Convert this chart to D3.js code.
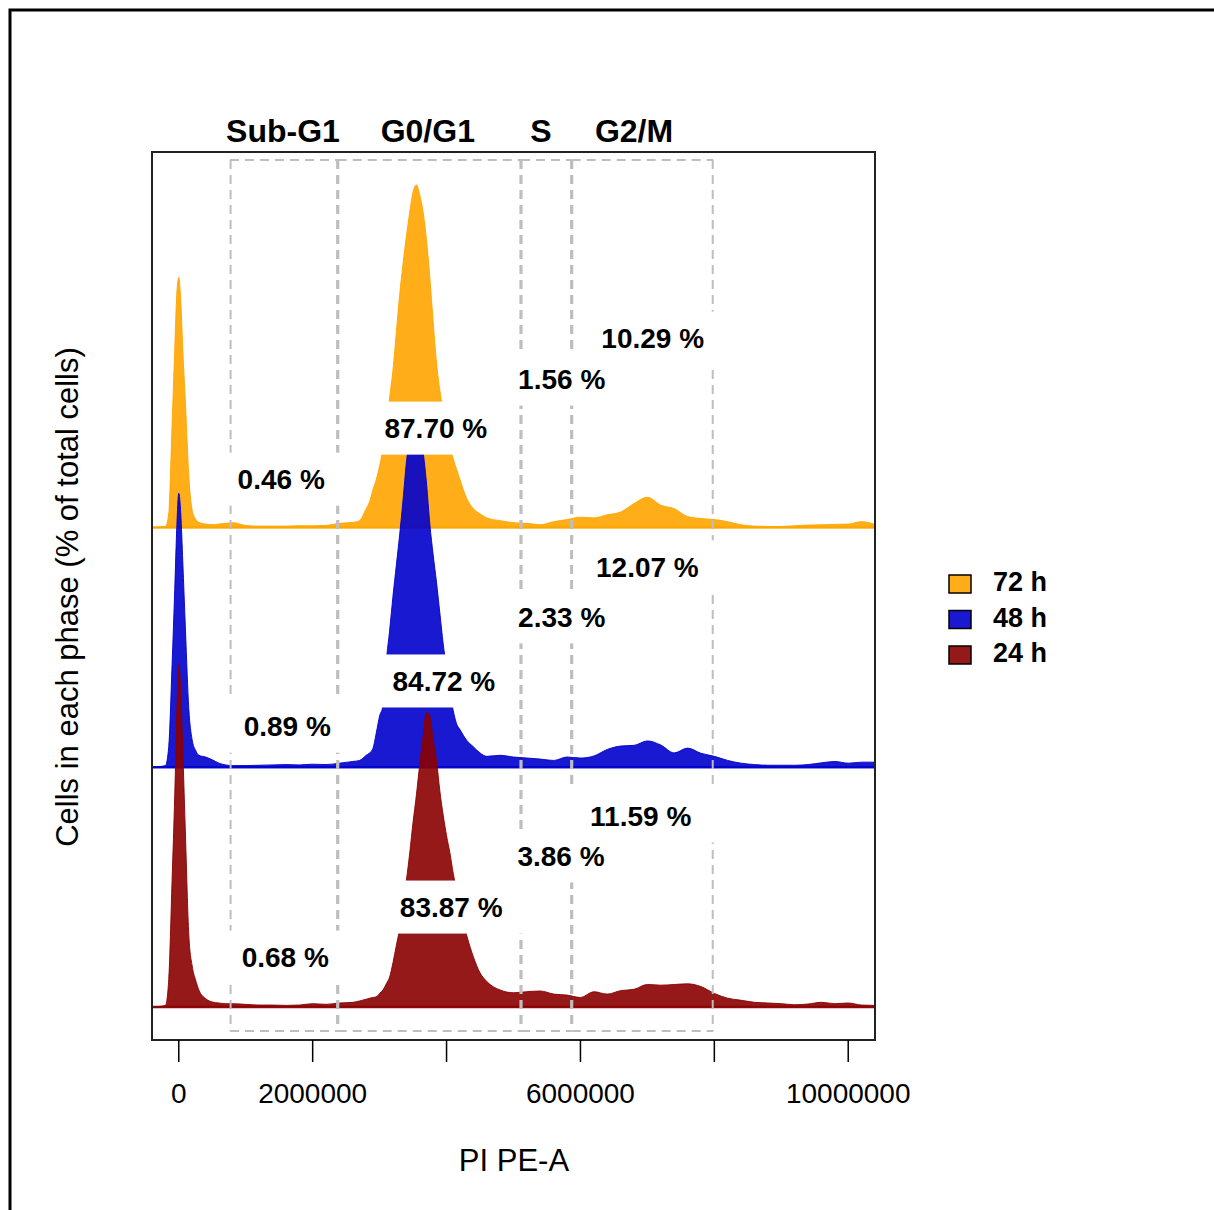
<!DOCTYPE html>
<html>
<head>
<meta charset="utf-8">
<script src="https://cdn.jsdelivr.net/npm/d3@7"></script>
<style>
  body { margin: 0; background: #fff; }
  svg text { font-family: "Liberation Sans", Arial, Helvetica, sans-serif; fill: #000; }
</style>
</head>
<body>
<div id="chart"></div>
<script>
// PI PE-A positions of the density grid (millions)
const posM = [-0.4, -0.2, -0.15, -0.1, -0.06, -0.03, 0, 0.03, 0.06, 0.1, 0.15, 0.2, 0.25, 0.3,
  0.4, 0.5, 0.6, 0.7, 0.8, 1.0, 1.2, 1.4, 1.6, 1.8, 2.0, 2.2, 2.4, 2.6, 2.7,
  2.8, 2.85, 2.9, 2.95, 3.0, 3.05, 3.1, 3.15, 3.2, 3.25, 3.3, 3.35, 3.4, 3.45, 3.5, 3.55,
  3.6, 3.65, 3.7, 3.75, 3.8, 3.85, 3.9, 3.95, 4.0, 4.05, 4.1, 4.15, 4.2,
  4.3, 4.4, 4.5, 4.6, 4.8, 5.0, 5.2, 5.4, 5.6, 5.8, 6.0, 6.2, 6.4, 6.6, 6.8, 7.0,
  7.2, 7.4, 7.6, 7.8, 8.0, 8.2, 8.4, 8.6, 8.8, 9.0, 9.2, 9.4, 9.6, 9.8, 10.0, 10.2, 10.4];

// scaled densities (max = 1)
const dens72 = [0, 0.003, 0.04, 0.30, 0.52, 0.68, 0.73, 0.66, 0.52, 0.36, 0.15, 0.05, 0.025, 0.015,
  0.01, 0.008, 0.01, 0.012, 0.014, 0.006, 0.004, 0.004, 0.004, 0.005, 0.005, 0.006, 0.012, 0.015, 0.02,
  0.055, 0.075, 0.11, 0.14, 0.18, 0.23, 0.30, 0.38, 0.46, 0.57, 0.68, 0.77, 0.85, 0.92, 0.98, 1.0,
  0.97, 0.92, 0.84, 0.73, 0.60, 0.48, 0.40, 0.34, 0.29, 0.24, 0.20, 0.17, 0.14,
  0.085, 0.055, 0.04, 0.028, 0.02, 0.014, 0.012, 0.008, 0.017, 0.023, 0.03, 0.028, 0.037, 0.045, 0.07, 0.088,
  0.065, 0.055, 0.032, 0.026, 0.023, 0.017, 0.008, 0.004, 0.003, 0.003, 0.005, 0.007, 0.008, 0.009, 0.010, 0.017, 0.009];

const dens48 = [0, 0.005, 0.06, 0.30, 0.52, 0.70, 0.80, 0.74, 0.60, 0.40, 0.17, 0.08, 0.05, 0.035,
  0.03, 0.022, 0.012, 0.007, 0.005, 0.005, 0.006, 0.007, 0.008, 0.007, 0.009, 0.008, 0.012, 0.017, 0.02,
  0.035, 0.042, 0.055, 0.10, 0.15, 0.18, 0.31, 0.40, 0.50, 0.59, 0.68, 0.78, 0.89, 0.96, 0.995, 1.0,
  0.98, 0.92, 0.83, 0.71, 0.62, 0.54, 0.45, 0.36, 0.29, 0.22, 0.165, 0.127, 0.11,
  0.079, 0.06, 0.042, 0.032, 0.035, 0.03, 0.027, 0.024, 0.02, 0.03, 0.027, 0.033, 0.052, 0.062, 0.064, 0.077,
  0.065, 0.042, 0.056, 0.041, 0.032, 0.02, 0.012, 0.008, 0.006, 0.006, 0.006, 0.008, 0.013, 0.017, 0.012, 0.015, 0.015];

const dens24 = [0, 0.005, 0.08, 0.37, 0.62, 0.85, 1.0, 0.92, 0.75, 0.50, 0.21, 0.12, 0.08, 0.05,
  0.025, 0.015, 0.012, 0.01, 0.01, 0.008, 0.006, 0.006, 0.005, 0.006, 0.01, 0.008, 0.012, 0.014, 0.018,
  0.023, 0.026, 0.028, 0.03, 0.04, 0.05, 0.068, 0.088, 0.13, 0.18, 0.23, 0.30, 0.37, 0.45, 0.54, 0.62,
  0.71, 0.79, 0.86, 0.85, 0.78, 0.72, 0.63, 0.56, 0.50, 0.45, 0.39, 0.34, 0.29,
  0.21, 0.147, 0.10, 0.075, 0.05, 0.042, 0.045, 0.047, 0.038, 0.035, 0.028, 0.045, 0.038, 0.048, 0.052, 0.066,
  0.064, 0.066, 0.068, 0.06, 0.04, 0.026, 0.02, 0.014, 0.012, 0.01, 0.007, 0.009, 0.014, 0.01, 0.012, 0.006, 0.005];

const seriesNames = ["72 h", "48 h", "24 h"];
const seriesColors = ["#FFA500", "#0000CD", "#8B0000"];
const seriesOffset = [1.4, 0.7, 0];
const seriesDens = [dens72, dens48, dens24];

// gates (millions)
const phaseNames = ["Sub-G1", "G0/G1", "S", "G2/M"];
const gateStart = [0.765, 2.374, 5.112, 5.869];
const gateEnd = [2.374, 5.112, 5.869, 7.985];
const phaseLabelX = [1.556, 3.72, 5.41, 6.8];

// percentages per series, and where they sit (x in millions, y above the baseline)
const pct72 = ["0.46 %", "87.70 %", "1.56 %", "10.29 %"];
const pct48 = ["0.89 %", "84.72 %", "2.33 %", "12.07 %"];
const pct24 = ["0.68 %", "83.87 %", "3.86 %", "11.59 %"];
const pctX72 = [1.53, 3.84, 5.72, 7.08];
const pctX48 = [1.62, 3.96, 5.72, 7.0];
const pctX24 = [1.59, 4.07, 5.71, 6.90];
const pctY72 = [0.141, 0.29, 0.433, 0.553];
const pctY48 = [0.12, 0.252, 0.439, 0.585];
const pctY24 = [0.146, 0.292, 0.441, 0.558];

const xTicks = [0, 2000000, 4000000, 6000000, 8000000, 10000000];
const xTickLabels = ["0", "2000000", "", "6000000", "", "10000000"];

const W = 1214, H = 1210;
const plot = { left: 152, right: 875, top: 152, bottom: 1040 };

const svg = d3.select("#chart").append("svg")
  .attr("width", W).attr("height", H);

// outer frame
svg.append("rect")
  .attr("x", 10).attr("y", 10)
  .attr("width", W + 20).attr("height", H + 20)
  .attr("fill", "#fff").attr("stroke", "#000").attr("stroke-width", 3);

const x = d3.scaleLinear().domain([-400000, 10400000]).range([plot.left, plot.right]);
const y = d3.scaleLinear().domain([-0.096, 2.496]).range([plot.bottom, plot.top]);

svg.append("clipPath").attr("id", "clip")
  .append("rect")
  .attr("x", plot.left).attr("y", plot.top)
  .attr("width", plot.right - plot.left).attr("height", plot.bottom - plot.top);

const g = svg.append("g").attr("clip-path", "url(#clip)");

// densities, top one first so lower ones lie over it
seriesDens.forEach((dens, s) => {
  const off = seriesOffset[s];
  const area = d3.area()
    .curve(d3.curveMonotoneX)
    .x((d, i) => x(posM[i] * 1e6))
    .y0(y(off))
    .y1(d => y(off + d));

  g.append("path")
    .datum(dens)
    .attr("d", area)
    .attr("fill", seriesColors[s])
    .attr("fill-opacity", 0.9)
    .attr("stroke", seriesColors[s])
    .attr("stroke-opacity", 0.9)
    .attr("stroke-width", 1);

  g.append("line")
    .attr("x1", plot.left).attr("x2", plot.right)
    .attr("y1", y(off)).attr("y2", y(off))
    .attr("stroke", seriesColors[s])
    .attr("stroke-opacity", 0.9)
    .attr("stroke-width", 2.5);
});

// gate boxes, every edge drawn in the same direction so shared edges keep their dashes
const gTop = y(2.473), gBot = y(-0.07);
const gateLines = g.append("g")
  .attr("stroke", "#BEBEBE")
  .attr("stroke-width", 2)
  .attr("stroke-dasharray", "9,6");
phaseNames.forEach((p, i) => {
  const x0 = x(gateStart[i] * 1e6), x1 = x(gateEnd[i] * 1e6);
  [[x0, gTop, x1, gTop], [x0, gBot, x1, gBot],
   [x0 + 0.6, gTop, x0 + 0.6, gBot], [x1 - 0.6, gTop, x1 - 0.6, gBot]].forEach(l => {
    gateLines.append("line")
      .attr("x1", l[0]).attr("y1", l[1])
      .attr("x2", l[2]).attr("y2", l[3]);
  });
});

// percentage labels on white boxes
const pctText = [pct72, pct48, pct24];
const pctX = [pctX72, pctX48, pctX24];
const pctY = [pctY72, pctY48, pctY24];
const boxLayer = svg.append("g");
const labelLayer = svg.append("g");

pctText.forEach((labels, s) => {
  labels.forEach((lab, i) => {
    const cx = x(pctX[s][i] * 1e6);
    const cy = y(seriesOffset[s] + pctY[s][i]);
    const t = labelLayer.append("text")
      .attr("x", cx).attr("y", cy)
      .attr("dy", "0.35em")
      .attr("text-anchor", "middle")
      .attr("font-size", 28)
      .attr("font-weight", "bold")
      .text(lab);
    const len = t.node().getComputedTextLength();
    boxLayer.append("rect")
      .attr("x", cx - len / 2 - 23)
      .attr("y", cy - 26.5)
      .attr("width", len + 46)
      .attr("height", 53)
      .attr("fill", "#fff");
  });
});

// plot box
svg.append("rect")
  .attr("x", plot.left).attr("y", plot.top)
  .attr("width", plot.right - plot.left).attr("height", plot.bottom - plot.top)
  .attr("fill", "none").attr("stroke", "#222").attr("stroke-width", 2);

// phase titles above the box
svg.append("g").selectAll("text")
  .data(phaseNames)
  .join("text")
  .attr("x", (d, i) => x(phaseLabelX[i] * 1e6))
  .attr("y", 131)
  .attr("dy", "0.35em")
  .attr("text-anchor", "middle")
  .attr("font-size", 32)
  .attr("font-weight", "bold")
  .text(d => d);

// x axis
const axis = svg.append("g");
axis.selectAll("line")
  .data(xTicks)
  .join("line")
  .attr("x1", d => x(d)).attr("x2", d => x(d))
  .attr("y1", plot.bottom).attr("y2", plot.bottom + 22)
  .attr("stroke", "#000").attr("stroke-width", 1.5);
axis.selectAll("text")
  .data(xTicks)
  .join("text")
  .attr("x", d => x(d))
  .attr("y", 1093)
  .attr("dy", "0.35em")
  .attr("text-anchor", "middle")
  .attr("font-size", 28)
  .text((d, i) => xTickLabels[i]);

svg.append("text")
  .attr("x", 514).attr("y", 1160)
  .attr("dy", "0.35em")
  .attr("text-anchor", "middle")
  .attr("font-size", 31)
  .text("PI PE-A");

svg.append("text")
  .attr("transform", "translate(67,597) rotate(-90)")
  .attr("dy", "0.35em")
  .attr("text-anchor", "middle")
  .attr("font-size", 31)
  .text("Cells in each phase (% of total cells)");

// legend
const legend = svg.append("g");
seriesNames.forEach((n, i) => {
  const ly = 584 + i * 35.5;
  legend.append("rect")
    .attr("x", 949).attr("y", ly - 9)
    .attr("width", 22).attr("height", 18)
    .attr("fill", seriesColors[i]).attr("fill-opacity", 0.9)
    .attr("stroke", "#000").attr("stroke-width", 1.5);
  legend.append("text")
    .attr("x", 993).attr("y", ly - 2)
    .attr("dy", "0.35em")
    .attr("font-size", 27)
    .attr("font-weight", "bold")
    .text(n);
});
</script>
</body>
</html>
